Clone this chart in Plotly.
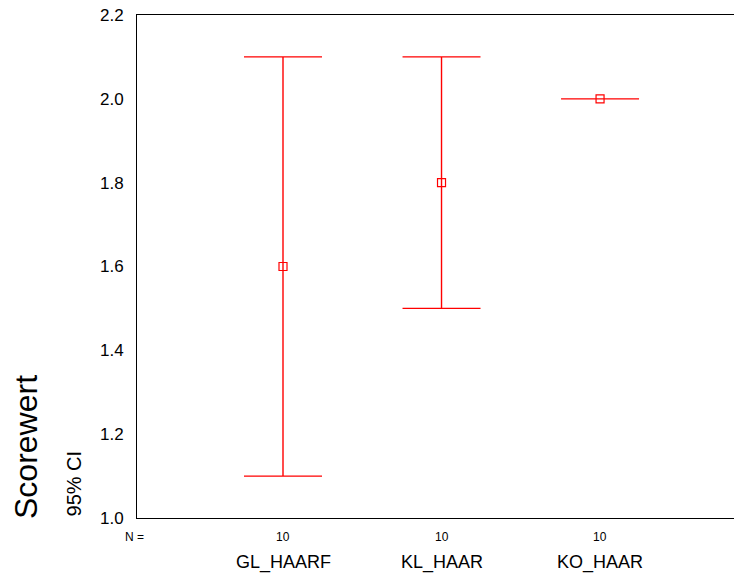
import plotly.graph_objects as go

categories = ["GL_HAARF", "KL_HAAR", "KO_HAAR"]
means = [1.6, 1.8, 2.0]
lower = [1.1, 1.5, 2.0]
upper = [2.1, 2.1, 2.0]
n_values = [10, 10, 10]
ytick_vals = [1.0, 1.2, 1.4, 1.6, 1.8, 2.0, 2.2]

xpos = list(range(len(categories)))
err_plus = [u - m for u, m in zip(upper, means)]
err_minus = [m - l for m, l in zip(means, lower)]

fig = go.Figure()
fig.add_trace(go.Scatter(
    x=xpos, y=means, mode="markers",
    marker=dict(symbol="square-open", size=8, color="#ff0000", line=dict(width=1.2, color="#ff0000")),
    error_y=dict(type="data", symmetric=False, array=err_plus, arrayminus=err_minus,
                 color="#ff0000", thickness=1.4, width=39, visible=True),
    showlegend=False, hoverinfo="skip",
))

font = "Liberation Sans, Arial, Helvetica, sans-serif"
ann = []
for x, c, n in zip(xpos, categories, n_values):
    ann.append(dict(x=x, y=-0.0378, xref="x", yref="paper", text=str(n), showarrow=False,
                    font=dict(size=12, color="black", family=font), xanchor="center", yanchor="middle"))
    ann.append(dict(x=x, y=-0.0875, xref="x", yref="paper", text=c, showarrow=False,
                    font=dict(size=18, color="black", family=font), xanchor="center", yanchor="middle"))
ann.append(dict(x=-0.0034, y=-0.0378, xref="paper", yref="paper", text="N =", showarrow=False,
                font=dict(size=12, color="black", family=font), xanchor="center", yanchor="middle"))
ann.append(dict(x=-0.186, y=-0.006, xref="paper", yref="paper", text="Scorewert", textangle=-90,
                showarrow=False, font=dict(size=32, color="black", family=font),
                xanchor="center", yanchor="bottom"))
ann.append(dict(x=-0.1047, y=0.0, xref="paper", yref="paper", text="95% CI", textangle=-90,
                showarrow=False, font=dict(size=20, color="black", family=font),
                xanchor="center", yanchor="bottom"))

fig.update_layout(
    width=734, height=574,
    margin=dict(l=137, r=0, t=15, b=56),
    paper_bgcolor="white", plot_bgcolor="white",
    hovermode=False,
    font=dict(family=font, color="black"),
    xaxis=dict(range=[-0.921, 2.845], showgrid=False, zeroline=False, showticklabels=False,
               ticks="", showline=True, mirror=True, linecolor="black", linewidth=1),
    yaxis=dict(range=[1.0, 2.2], tickvals=ytick_vals, ticktext=[f"{v:.1f}" for v in ytick_vals],
               showgrid=False, zeroline=False, ticks="", showline=True, linecolor="black", linewidth=1,
               tickfont=dict(size=17, family=font, color="black"), ticklabelstandoff=9),
    annotations=ann,
)

fig.write_html("out.html", config={"displayModeBar": False},
               post_script="document.body.style.margin='0';document.body.style.overflow='hidden';")
